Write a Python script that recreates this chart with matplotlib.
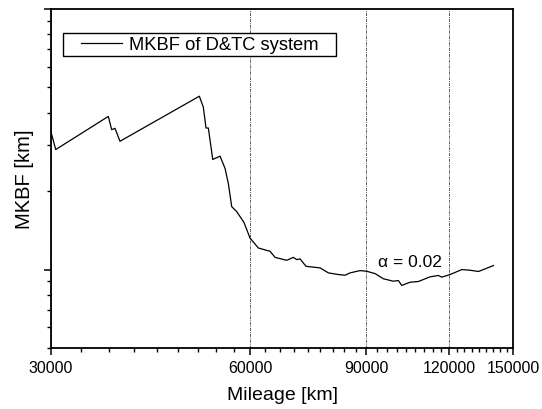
import numpy as np
import matplotlib
matplotlib.use('Agg')
import matplotlib.pyplot as plt
from matplotlib.lines import Line2D
from matplotlib.ticker import FixedLocator, LogLocator, NullFormatter
from matplotlib.legend_handler import HandlerLine2D

plt.rcParams['font.family'] = ['Liberation Sans', 'DejaVu Sans']

# MKBF curve (mileage in km, MKBF in km)
mileage = [30000, 30500, 36630, 37060, 37490, 38150, 50300, 51000, 51480, 51900,
           52700, 54060, 55010, 55640, 56300, 57290, 58770, 60010, 61780, 64350,
           65480, 68200, 69790, 70620, 71430, 72940, 76590, 78840, 81630, 83560,
           85030, 88050, 90130, 92770, 95490, 98880, 100600, 101800, 104800, 107900,
           112400, 115700, 117000, 120500, 125500, 129200, 133000, 140100]
mkbf = [33720, 28880, 38700, 34440, 34830, 31070, 46270, 42010, 34930, 34930,
        26460, 27240, 24440, 21420, 17440, 16690, 15150, 13210, 12100, 11750,
        11140, 10850, 11140, 10920, 10990, 10290, 10150, 9710, 9570, 9510,
        9710, 9910, 9850, 9650, 9220, 9020, 9080, 8690, 8940, 9000,
        9380, 9490, 9350, 9570, 10000, 9940, 9830, 10360]

x_major = [30000, 60000, 90000, 120000, 150000]
x_labels = ['30000', '60000', '90000', '120000', '150000']
y_lim = (5000, 100000)


class OffsetLine(HandlerLine2D):
    # Origin style legend: line sits a bit away from the frame edge
    def create_artists(self, legend, orig_handle, xdescent, ydescent,
                       width, height, fontsize, trans):
        arts = super().create_artists(legend, orig_handle, xdescent, ydescent,
                                      width, height, fontsize, trans)
        for a in arts:
            xd = np.asarray(a.get_xdata(), dtype=float)
            if xd.size >= 2:
                a.set_xdata(np.linspace(xd[0] + 0.85 * fontsize, xd[-1], xd.size))
        return arts


fig = plt.figure(figsize=(5.42, 4.10), dpi=100)
ax = fig.add_axes([0.0941, 0.1488, 0.8524, 0.8268])

line, = ax.plot(mileage, mkbf, color='black', lw=0.9, label='MKBF of D&TC system')

ax.set_xscale('log')
ax.set_yscale('log')
ax.set_xlim(x_major[0], x_major[-1])
ax.set_ylim(*y_lim)

ax.xaxis.set_major_locator(FixedLocator(x_major))
ax.set_xticklabels(x_labels)
minor = []
for a, b in zip(x_major[:-1], x_major[1:]):
    minor.extend(np.linspace(a, b, 10)[1:-1])
ax.xaxis.set_minor_locator(FixedLocator(minor))
ax.xaxis.set_minor_formatter(NullFormatter())

ax.yaxis.set_major_locator(LogLocator(base=10))
ax.yaxis.set_minor_locator(LogLocator(base=10, subs=np.arange(2, 10)))
ax.yaxis.set_major_formatter(NullFormatter())
ax.yaxis.set_minor_formatter(NullFormatter())

ax.tick_params(which='major', direction='out', length=5, width=1.1, labelsize=11.5,
               top=False, right=False)
ax.tick_params(which='minor', direction='out', length=2.6, width=1.0,
               top=False, right=False)
for s in ax.spines.values():
    s.set_linewidth(1.3)

ax.grid(True, axis='x', which='major', color='0.35', lw=0.7,
        linestyle=(0, (3, 1, 1, 1)))

ax.set_xlabel('Mileage [km]', fontsize=14, labelpad=8)
ax.set_ylabel('MKBF [km]', fontsize=14.5, labelpad=4)

ax.text(93700, 10750, '\u03b1 = 0.02', fontsize=12.5, ha='left', va='center')

# frame is wider than the text, like the Origin legend
leg = ax.legend(handles=[line], loc='upper left', mode='expand',
                bbox_to_anchor=(0.0253, 0.80, 0.5916, 0.128),
                fontsize=13.2, frameon=True, fancybox=False, edgecolor='black',
                framealpha=1, borderpad=0.15, handlelength=3.1, handletextpad=0.35,
                borderaxespad=0, handler_map={Line2D: OffsetLine()})
leg.get_frame().set_linewidth(1.0)

fig.savefig('out.png', dpi=100)
